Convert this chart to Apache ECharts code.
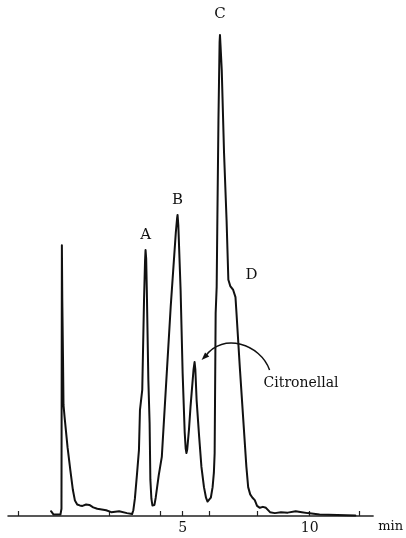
<!DOCTYPE html>
<html>
<head>
<meta charset="utf-8">
<style>
  html, body { margin: 0; padding: 0; background: #fff; }
  #chart { width: 406px; height: 538px; }
</style>
<script src="https://cdn.jsdelivr.net/npm/echarts@6/dist/echarts.min.js"></script>
</head>
<body>
<div id="chart"></div>
<script>
// Gas chromatogram: retention time (min) vs detector response (C = 100)
const retentionTime = [
  -0.18, -0.14, -0.08, -0.03, 0.19, 0.23, 0.246, 0.262, 0.29, 0.31, 0.352, 0.469, 0.58, 0.68, 0.76,
  0.85, 0.95, 1.055, 1.2, 1.328, 1.48, 1.64, 1.99, 2.19, 2.5, 2.81, 3.01,
  3.06, 3.12, 3.2, 3.28, 3.32, 3.41, 3.48, 3.52, 3.54, 3.565, 3.59, 3.65, 3.70, 3.73, 3.77, 3.81, 3.85,
  3.89, 3.94, 4.06, 4.18, 4.375, 4.53, 4.73, 4.78, 4.80, 4.83, 4.92, 5.0, 5.08, 5.12, 5.15,
  5.18, 5.25, 5.31, 5.43, 5.47, 5.50, 5.55, 5.65, 5.74, 5.84, 5.92, 5.98, 6.04, 6.11, 6.18, 6.23, 6.26,
  6.30, 6.34, 6.37, 6.41, 6.455, 6.47, 6.49,
  6.54, 6.63, 6.73, 6.80, 6.875, 6.99, 7.08, 7.12, 7.25, 7.40, 7.51, 7.58, 7.66, 7.75, 7.84,
  7.93, 8.04, 8.16, 8.28, 8.44, 8.63, 8.87, 9.14, 9.45, 9.69, 9.92, 10.39, 11.09, 11.8
];
const response = [
  1.0, 0.6, 0.3, 0.3, 0.3, 1.5, 56.3, 45.0, 33.0, 23.1, 20.6, 14.3, 9.5, 5.4, 3.2,
  2.4, 2.2, 2.1, 2.4, 2.3, 1.8, 1.5, 1.2, 0.8, 1.0, 0.6, 0.4,
  1.2, 3.6, 8.5, 13.7, 22.0, 26.2, 44.9, 53.0, 55.3, 53.5, 47.0, 28.3, 19.3, 7.5, 3.6, 2.2, 1.9,
  2.3, 3.8, 8.5, 12.3, 29.7, 43.5, 58.8, 61.8, 62.6, 60.5, 47.0, 29.7, 17.5, 14.0, 13.1,
  13.8, 18.0, 22.7, 30.5, 32.0, 30.5, 24.1, 16.5, 10.2, 6.0, 3.8, 3.0, 3.0, 3.8, 6.0, 9.0, 13.0,
  42.2, 47.6, 63.0, 82.3, 98.5, 100, 98.0,
  92.7, 75.5, 61.5, 49.1, 47.8, 47.0, 45.5, 42.2, 31.0, 19.0, 10.2, 6.0, 4.5, 3.8, 3.3,
  2.1, 1.7, 1.9, 1.7, 0.8, 0.6, 0.8, 0.7, 1.0, 0.8, 0.6, 0.3, 0.2, 0.1
];

// Axis marks
const tickMinutes = [-1.48, 2.1, 4.1, 5, 6.05, 7.95, 10, 11.95];
const labelMinutes = [5, 10];

// Named peaks
const peakNames = ['A', 'B', 'C', 'D'];
const peakTimes = [3.54, 4.80, 6.47, 7.08];
const peakHeights = [55.3, 62.6, 100, 45.5];

// Citronellal peak (annotated with an arrow)
const citronellalTime = 5.47;
const citronellalHeight = 32.0;

const serif = '"DejaVu Serif", "Liberation Serif", serif';
const chart = echarts.init(document.getElementById('chart'));

const labelOffsets = [[0, -15], [0, -15], [0, -21], [16, -22]];

chart.setOption({
  animation: false,
  backgroundColor: '#fff',
  grid: { left: 8, right: 30, top: 35, bottom: 22, containLabel: false },
  xAxis: {
    type: 'value',
    min: -1.875,
    max: 12.5,
    name: 'min',
    nameLocation: 'end',
    nameGap: 5,
    nameTextStyle: { fontFamily: serif, fontSize: 13, color: '#111', verticalAlign: 'top', padding: [4, 0, 0, 0] },
    axisLine: { show: true, onZero: false, lineStyle: { color: '#222', width: 1.5 } },
    axisTick: { show: true, inside: true, length: 5, customValues: tickMinutes, lineStyle: { color: '#222', width: 1.2 } },
    axisLabel: { show: true, customValues: labelMinutes, margin: 5, fontFamily: serif, fontSize: 14, color: '#111' },
    splitLine: { show: false }
  },
  yAxis: {
    type: 'value',
    min: 0,
    max: 100,
    show: false
  },
  series: [{
    type: 'line',
    data: retentionTime.map((t, i) => [t, response[i]]),
    showSymbol: false,
    smooth: false,
    lineStyle: { color: '#111', width: 2, join: 'round', cap: 'round' },
    markPoint: {
      symbol: 'circle',
      symbolSize: 0,
      label: { show: true, fontFamily: serif, fontSize: 15, color: '#111' },
      data: peakNames.map((n, i) => ({
        coord: [peakTimes[i], peakHeights[i]],
        value: n,
        label: { formatter: n, offset: labelOffsets[i] }
      }))
    }
  }]
});

// Arrow and label for citronellal, positioned from the peak's data coordinate
const p = chart.convertToPixel({ gridIndex: 0 }, [citronellalTime, citronellalHeight]);
const px = p[0], py = p[1];
chart.setOption({
  graphic: [
    {
      type: 'bezierCurve',
      shape: {
        x1: px + 75, y1: py + 8,
        cpx1: px + 66, cpy1: py - 18,
        cpx2: px + 28, cpy2: py - 30,
        x2: px + 11, y2: py - 6
      },
      style: { stroke: '#111', lineWidth: 1.5, fill: null }
    },
    {
      type: 'polygon',
      shape: { points: [[px + 7, py - 2], [px + 10.5, py - 9.7], [px + 14.7, py - 5.5]] },
      style: { fill: '#111' }
    },
    {
      type: 'text',
      x: px + 69,
      y: py + 21,
      style: {
        text: 'Citronellal',
        font: '14px ' + serif,
        fill: '#111',
        textVerticalAlign: 'middle'
      }
    }
  ]
});
</script>
</body>
</html>
